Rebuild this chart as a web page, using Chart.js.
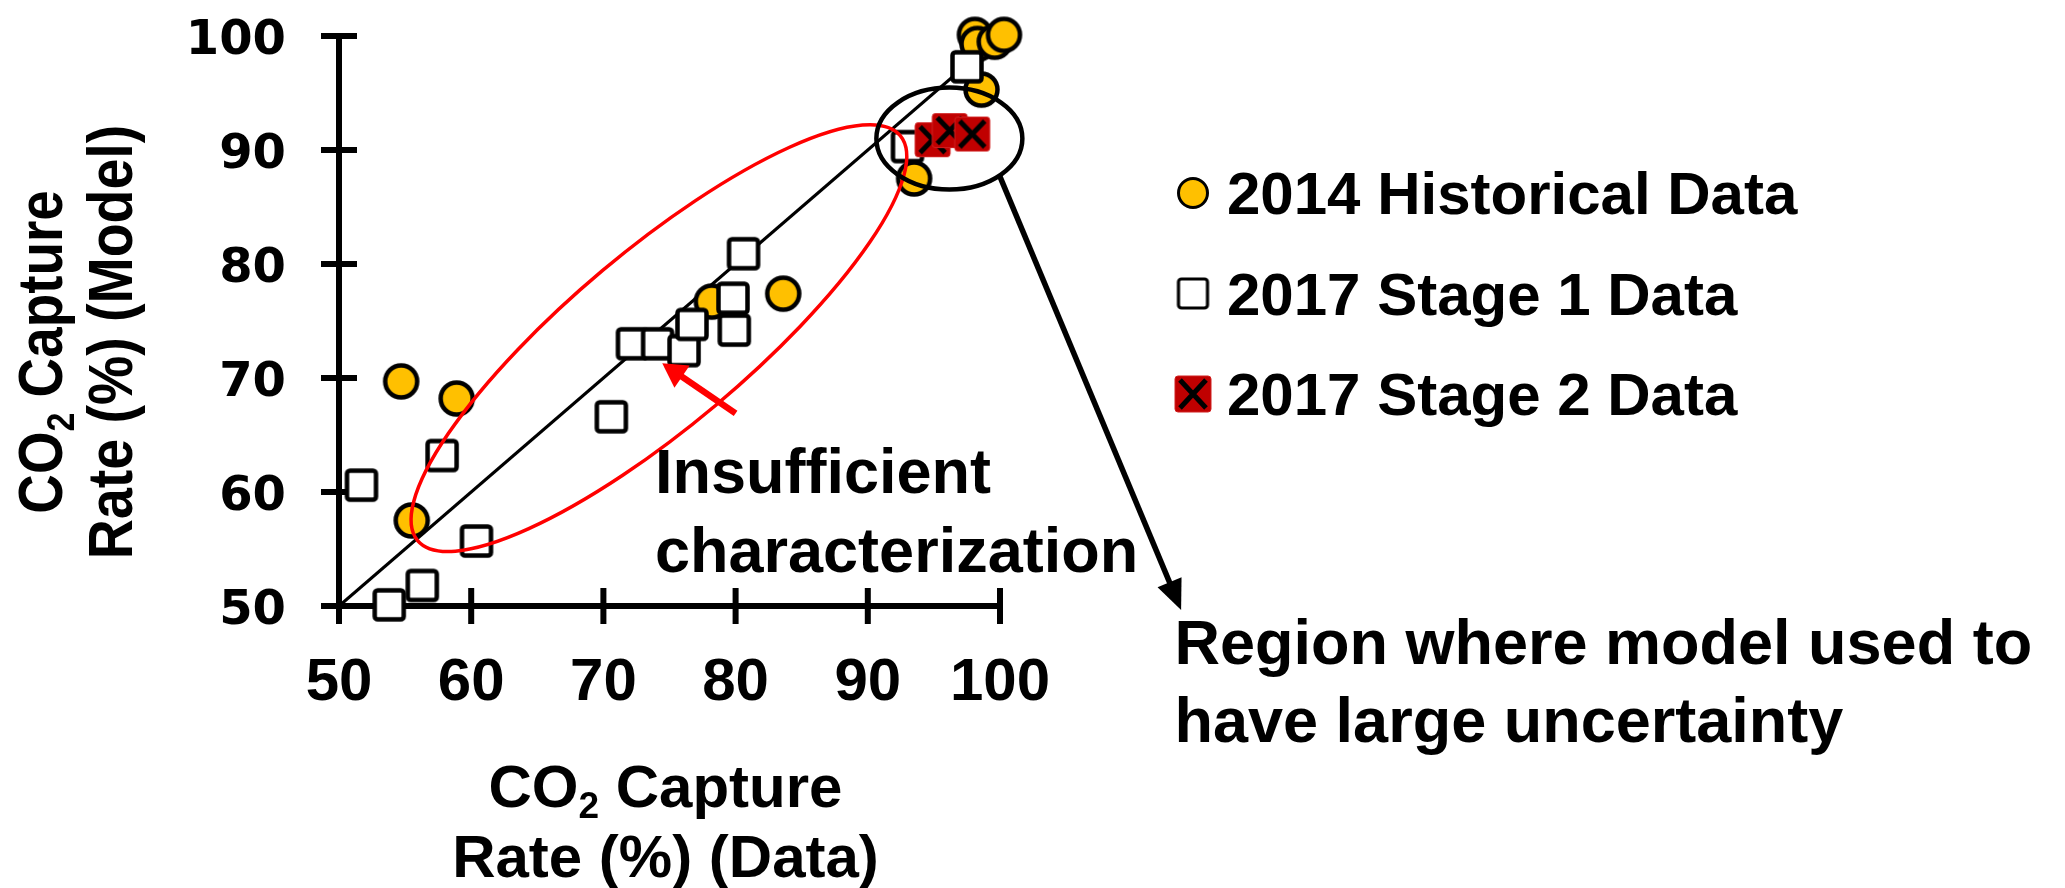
<!DOCTYPE html>
<html>
<head>
<meta charset="utf-8">
<script src="https://cdn.jsdelivr.net/npm/chart.js@4.4.1/dist/chart.umd.min.js"></script>
<style>
  html, body { margin: 0; padding: 0; background: #ffffff; overflow: hidden; }
  #wrap { width: 2065px; height: 888px; position: relative; }
  canvas { display: block; }
</style>
</head>
<body>
<div id="wrap"><canvas id="c" width="2065" height="888"></canvas></div>
<script>
// ---------------- DATA ----------------
const seriesNames = ['2014 Historical Data', '2017 Stage 1 Data', '2017 Stage 2 Data'];

const hist2014X = [54.7, 58.9, 55.5, 78.2, 83.6, 93.5, 98.6, 98.1, 98.3, 99.6, 100.3];
const hist2014Y = [69.7, 68.2, 57.5, 76.7, 77.4, 87.5, 95.3, 100.1, 99.3, 99.5, 100.1];

const stage1X = [51.7, 53.8, 56.3, 57.8, 60.4, 70.6, 72.2, 74.1, 76.1, 76.7, 79.9, 79.8, 80.6, 93.0, 97.5];
const stage1Y = [60.6, 50.1, 51.8, 63.2, 55.7, 66.6, 73.0, 73.0, 72.4, 74.7, 74.2, 77.0, 80.9, 90.3, 97.3];

const stage2X = [94.9, 96.2, 97.9];
const stage2Y = [90.9, 91.7, 91.4];

const parityX = [50, 100];
const parityY = [50, 100];

const xTickLabels = ['50', '60', '70', '80', '90', '100'];
const yTickLabels = ['50', '60', '70', '80', '90', '100'];

const xTitleLines = [['CO', '2', ' Capture'], ['Rate (%) (Data)']];
const yTitleLines = [['CO', '2', ' Capture'], ['Rate (%) (Model)']];

const noteInsufficientLines = ['Insufficient', 'characterization'];
const noteRegionLines = ['Region where model used to', 'have large uncertainty'];

// annotation anchors (in data units)
const redEllipse = { cx: 74.2, cy: 73.5, a: 315, b: 88, rotDeg: -40 };
const blackEllipse = { cx: 96.17, cy: 91.0, rx: 73, ry: 51 };
const redArrow = { from: [80.0, 66.9], to: [74.45, 71.3] };
const blackArrow = { from: [99.95, 87.8], to: [113.7, 49.65] };
const noteInsufficient = { x: 73.9, y: 59.9 };
const noteRegion = { x: 113.2, y: 44.9 };

// ---------------- MARKERS ----------------
function rr(g, x, y, w, h, r) {
  g.beginPath();
  g.moveTo(x + r, y);
  g.lineTo(x + w - r, y); g.arcTo(x + w, y, x + w, y + r, r);
  g.lineTo(x + w, y + h - r); g.arcTo(x + w, y + h, x + w - r, y + h, r);
  g.lineTo(x + r, y + h); g.arcTo(x, y + h, x, y + h - r, r);
  g.lineTo(x, y + r); g.arcTo(x, y, x + r, y, r);
  g.closePath();
}
function markerCircle(r, lw) {
  const s = Math.ceil(2 * r + lw + 2);
  const c = document.createElement('canvas'); c.width = c.height = s;
  const g = c.getContext('2d');
  g.beginPath(); g.arc(s / 2, s / 2, r, 0, Math.PI * 2);
  g.fillStyle = '#FFC000'; g.fill();
  g.lineWidth = lw; g.strokeStyle = '#000'; g.stroke();
  return c;
}
function markerSquare(side, lw) {
  const s = Math.ceil(side + lw + 2);
  const c = document.createElement('canvas'); c.width = c.height = s;
  const g = c.getContext('2d');
  const o = (s - side) / 2;
  rr(g, o, o, side, side, 3);
  g.fillStyle = '#FFFFFF'; g.fill();
  g.lineWidth = lw; g.strokeStyle = '#000'; g.stroke();
  return c;
}
function markerCross(w, h, lw) {
  const s = Math.ceil(Math.max(w, h) + 4);
  const c = document.createElement('canvas'); c.width = c.height = s;
  const g = c.getContext('2d');
  const ox = (s - w) / 2, oy = (s - h) / 2;
  rr(g, ox, oy, w, h, 3);
  g.fillStyle = '#C00000'; g.fill();
  g.lineWidth = 1; g.strokeStyle = '#D02020'; g.stroke();
  g.beginPath();
  g.moveTo(ox + 5, oy + 4); g.lineTo(ox + w - 5, oy + h - 4);
  g.moveTo(ox + w - 5, oy + 4); g.lineTo(ox + 5, oy + h - 4);
  g.lineWidth = lw; g.strokeStyle = '#000'; g.lineCap = 'butt'; g.stroke();
  return c;
}
const circleImg = markerCircle(16, 4.5);
const squareImg = markerSquare(29, 4.5);
const crossImg = markerCross(35, 34, 5);
const legendImgs = [markerCircle(14.5, 3), markerSquare(29, 3.2), markerCross(36, 36, 5)];

// ---------------- DRAW HELPERS ----------------
const FONT = '"Liberation Sans", Arial, sans-serif';
function pt(chart, x, y) {
  return [chart.scales.x.getPixelForValue(x), chart.scales.y.getPixelForValue(y)];
}
function arrow(g, x0, y0, x1, y1, lw, headLen, headW, color) {
  const ang = Math.atan2(y1 - y0, x1 - x0);
  const bx = x1 - headLen * Math.cos(ang), by = y1 - headLen * Math.sin(ang);
  g.save();
  g.strokeStyle = color; g.fillStyle = color; g.lineWidth = lw; g.lineCap = 'butt';
  g.beginPath(); g.moveTo(x0, y0); g.lineTo(bx + Math.cos(ang) * 2, by + Math.sin(ang) * 2); g.stroke();
  g.beginPath();
  g.moveTo(x1, y1);
  g.lineTo(bx + Math.sin(ang) * headW / 2, by - Math.cos(ang) * headW / 2);
  g.lineTo(bx - Math.sin(ang) * headW / 2, by + Math.cos(ang) * headW / 2);
  g.closePath(); g.fill();
  g.restore();
}
// draws a line made of [normal, subscript, normal] parts, centered at cx, baseline y
function subLine(g, parts, cx, y, size, subSize, subDrop) {
  const mainF = 'bold ' + size + 'px ' + FONT;
  const subF = 'bold ' + subSize + 'px ' + FONT;
  const widths = parts.map((p, i) => { g.font = (i === 1 ? subF : mainF); return g.measureText(p).width; });
  const total = widths.reduce((a, b) => a + b, 0);
  let x = cx - total / 2;
  g.textAlign = 'left'; g.textBaseline = 'alphabetic';
  parts.forEach((p, i) => {
    g.font = (i === 1 ? subF : mainF);
    g.fillText(p, x, i === 1 ? y + subDrop : y);
    x += widths[i];
  });
}

const axesPlugin = {
  id: 'axesPlugin',
  beforeDatasetsDraw(chart) {
    const g = chart.ctx;
    const xs = chart.scales.x, ys = chart.scales.y;
    const L = xs.getPixelForValue(50), R = xs.getPixelForValue(100);
    const T = ys.getPixelForValue(100), B = ys.getPixelForValue(50);
    const half = 18;
    g.save();
    g.strokeStyle = '#000'; g.lineWidth = 6; g.lineCap = 'butt';
    g.beginPath();
    g.moveTo(L, T - 3); g.lineTo(L, B + half);
    g.moveTo(L - half, B); g.lineTo(R + 3, B);
    xTickLabels.forEach(l => { const px = xs.getPixelForValue(Number(l)); g.moveTo(px, B - half); g.lineTo(px, B + half); });
    yTickLabels.forEach(l => { const py = ys.getPixelForValue(Number(l)); g.moveTo(L - half, py); g.lineTo(L + half, py); });
    g.stroke();
    g.fillStyle = '#000';
    // x tick labels
    g.font = 'bold 60px ' + FONT; g.textAlign = 'center'; g.textBaseline = 'alphabetic';
    xTickLabels.forEach(l => g.fillText(l, xs.getPixelForValue(Number(l)), B + 94));
    // y tick labels
    g.font = 'bold 48px "DejaVu Sans", sans-serif'; g.textAlign = 'right';
    yTickLabels.forEach(l => g.fillText(l, L - 53, ys.getPixelForValue(Number(l)) + 17.5));
    g.restore();
  },
  afterDatasetsDraw(chart) {
    const g = chart.ctx;
    g.save();
    // red ellipse
    let [cx, cy] = pt(chart, redEllipse.cx, redEllipse.cy);
    g.beginPath();
    g.ellipse(cx, cy, redEllipse.a, redEllipse.b, redEllipse.rotDeg * Math.PI / 180, 0, Math.PI * 2);
    g.strokeStyle = '#FF0000'; g.lineWidth = 3.5; g.stroke();
    // black ellipse
    [cx, cy] = pt(chart, blackEllipse.cx, blackEllipse.cy);
    g.beginPath();
    g.ellipse(cx, cy, blackEllipse.rx, blackEllipse.ry, 0, 0, Math.PI * 2);
    g.strokeStyle = '#000'; g.lineWidth = 4.5; g.stroke();
    // arrows
    let a = pt(chart, redArrow.from[0], redArrow.from[1]), b = pt(chart, redArrow.to[0], redArrow.to[1]);
    arrow(g, a[0], a[1], b[0], b[1], 6.5, 24, 27, '#FF0000');
    a = pt(chart, blackArrow.from[0], blackArrow.from[1]); b = pt(chart, blackArrow.to[0], blackArrow.to[1]);
    arrow(g, a[0], a[1], b[0], b[1], 5.5, 30, 26, '#000');
    // notes
    g.fillStyle = '#000'; g.font = 'bold 63px ' + FONT; g.textAlign = 'left'; g.textBaseline = 'alphabetic';
    let p = pt(chart, noteInsufficient.x, noteInsufficient.y);
    noteInsufficientLines.forEach((t, i) => g.fillText(t, p[0], p[1] + i * 79));
    p = pt(chart, noteRegion.x, noteRegion.y);
    noteRegionLines.forEach((t, i) => g.fillText(t, p[0], p[1] + i * 78));
    g.restore();
  },
  afterDraw(chart) {
    const g = chart.ctx;
    const xs = chart.scales.x;
    g.save();
    g.fillStyle = '#000';
    // x title
    const xc = (xs.getPixelForValue(50) + xs.getPixelForValue(100)) / 2 - 4;
    subLine(g, xTitleLines[0], xc, 807, 60, 37, 11);
    subLine(g, xTitleLines[1], xc, 877, 60, 37, 11);
    // y title (rotated, compressed along text direction)
    g.save(); g.translate(62, 352); g.rotate(-Math.PI / 2); g.scale(0.87, 1);
    subLine(g, yTitleLines[0], 0, 0, 63, 39, 12);
    g.restore();
    g.save(); g.translate(132, 342); g.rotate(-Math.PI / 2); g.scale(0.88, 1);
    subLine(g, yTitleLines[1], 0, 0, 63, 39, 12);
    g.restore();
    // legend
    const rows = [193, 293.5, 394];
    g.font = 'bold 60px ' + FONT; g.textAlign = 'left'; g.textBaseline = 'alphabetic';
    seriesNames.forEach((name, i) => {
      const img = legendImgs[i];
      g.drawImage(img, 1193 - img.width / 2, rows[i] - img.height / 2);
      g.fillText(name, 1227, rows[i] + 21);
    });
    g.restore();
  }
};

const toPts = (xs, ys) => xs.map((x, i) => ({ x: x, y: ys[i] }));

new Chart(document.getElementById('c'), {
  type: 'scatter',
  data: {
    datasets: [
      { label: seriesNames[2], data: toPts(stage2X, stage2Y), pointStyle: crossImg, pointRadius: 18, pointHoverRadius: 18, order: 0, clip: false },
      { label: seriesNames[1], data: toPts(stage1X, stage1Y), pointStyle: squareImg, pointRadius: 18, pointHoverRadius: 18, order: 1, clip: false },
      { label: seriesNames[0], data: toPts(hist2014X, hist2014Y), pointStyle: circleImg, pointRadius: 18, pointHoverRadius: 18, order: 2, clip: false },
      { type: 'line', label: 'Parity', data: toPts(parityX, parityY), borderColor: '#000000', borderWidth: 3, pointRadius: 0, fill: false, order: 3, clip: false }
    ]
  },
  options: {
    responsive: false,
    animation: false,
    devicePixelRatio: 1,
    events: [],
    layout: { padding: { left: 339, top: 36, right: 1065, bottom: 282 } },
    scales: {
      x: { type: 'linear', min: 50, max: 100, display: false, ticks: { stepSize: 10 } },
      y: { type: 'linear', min: 50, max: 100, display: false, ticks: { stepSize: 10 } }
    },
    plugins: { legend: { display: false }, tooltip: { enabled: false }, title: { display: false } }
  },
  plugins: [axesPlugin]
});
</script>
</body>
</html>
